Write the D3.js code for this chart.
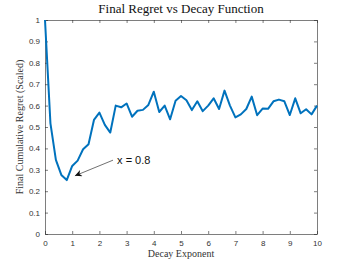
<!DOCTYPE html>
<html>
<head>
<meta charset="utf-8">
<script src="https://cdn.jsdelivr.net/npm/d3@7"></script>
<style>
    body { margin: 0; background: #fff; }
    .tick text { font-family: "Liberation Sans", Arial, sans-serif; font-size: 8px; fill: #333; }
</style>
</head>
<body>
<div class="chart"></div>
<script>
// decay exponent sampled every 0.2 from 0 to 10
var exponents = d3.range(0, 51).map(function (i) { return +(i * 0.2).toFixed(1); });
var regret = [1.0, 0.517, 0.346, 0.276, 0.252, 0.318, 0.343, 0.396, 0.419, 0.533,
    0.567, 0.51, 0.474, 0.6, 0.592, 0.61, 0.548, 0.576, 0.58, 0.603,
    0.665, 0.57, 0.6, 0.536, 0.623, 0.645, 0.625, 0.579, 0.62, 0.574,
    0.60, 0.634, 0.584, 0.67, 0.60, 0.545, 0.559, 0.584, 0.642, 0.555,
    0.586, 0.585, 0.62, 0.628, 0.62, 0.556, 0.634, 0.564, 0.583, 0.559, 0.60];
var xTicks = [0, 1, 2, 3, 4, 5, 6, 7, 8, 9, 10];
var yTicks = [0, 0.1, 0.2, 0.3, 0.4, 0.5, 0.6, 0.7, 0.8, 0.9, 1];
var annotation = { x: 0.8, label: "x = 0.8" };

function plotRegret() {

    var width = 350,
        height = 263,
        left = 45,
        right = 317,
        top = 20,
        bottom = 234;

    var x = d3.scaleLinear().domain([0, 10]).range([left, right]);
    var y = d3.scaleLinear().domain([0, 1]).range([bottom, top]);

    var svg = d3.select('.chart').append('svg')
        .attr('width', width)
        .attr('height', height);

    //axes, ticks pointing inwards like matlab
    var axisColor = '#262626';
    function styleAxis(g) {
        g.select('.domain').attr('stroke', axisColor).attr('stroke-width', 0.6);
        g.selectAll('.tick line').attr('stroke', axisColor).attr('stroke-width', 0.6);
    }
    svg.append('g').attr('transform', 'translate(0,' + bottom + ')')
        .call(d3.axisBottom(x).tickValues(xTicks).tickSizeInner(-3).tickSizeOuter(0).tickPadding(6))
        .call(styleAxis);
    svg.append('g').attr('transform', 'translate(' + left + ',0)')
        .call(d3.axisLeft(y).tickValues(yTicks).tickFormat(d3.format('')).tickSizeInner(-3).tickSizeOuter(0).tickPadding(5))
        .call(styleAxis);
    svg.append('g').attr('transform', 'translate(0,' + top + ')')
        .call(d3.axisTop(x).tickValues(xTicks).tickFormat('').tickSizeInner(-3).tickSizeOuter(0))
        .call(styleAxis);
    svg.append('g').attr('transform', 'translate(' + right + ',0)')
        .call(d3.axisRight(y).tickValues(yTicks).tickFormat('').tickSizeInner(-3).tickSizeOuter(0))
        .call(styleAxis);

    //line
    var line = d3.line()
        .x(function (d, i) { return x(exponents[i]); })
        .y(function (d) { return y(d); });
    svg.append('path')
        .datum(regret)
        .attr('d', line)
        .attr('fill', 'none')
        .attr('stroke', '#0072BD')
        .attr('stroke-width', 2)
        .attr('stroke-linejoin', 'round');

    //arrow annotation
    svg.append('defs').append('marker')
        .attr('id', 'head')
        .attr('viewBox', '0 0 10 10')
        .attr('refX', 10).attr('refY', 5)
        .attr('markerWidth', 10).attr('markerHeight', 7)
        .attr('markerUnits', 'userSpaceOnUse')
        .attr('orient', 'auto')
        .append('path').attr('d', 'M0,0L10,5L0,10L3,5Z').attr('fill', '#111');
    var minVal = regret[exponents.indexOf(annotation.x)];
    svg.append('line')
        .attr('x1', x(2.5)).attr('y1', y(0.345))
        .attr('x2', x(annotation.x + 0.3)).attr('y2', y(minVal + 0.02))
        .attr('stroke', '#333').attr('stroke-width', 0.7)
        .attr('marker-end', 'url(#head)');
    svg.append('text')
        .attr('x', x(2.65)).attr('y', y(0.345) + 4)
        .attr('font-family', '"Liberation Sans", Arial, sans-serif')
        .attr('font-size', '11px')
        .attr('fill', '#111')
        .text(annotation.label);

    //titles
    svg.append('text')
        .attr('x', (left + right) / 2).attr('y', 13)
        .attr('text-anchor', 'middle')
        .attr('font-family', '"Liberation Serif", serif')
        .attr('font-size', '13px')
        .attr('fill', '#111')
        .text('Final Regret vs Decay Function');
    svg.append('text')
        .attr('x', (left + right) / 2).attr('y', 257)
        .attr('text-anchor', 'middle')
        .attr('font-family', '"Liberation Serif", serif')
        .attr('font-size', '10px')
        .attr('fill', '#333')
        .text('Decay Exponent');
    svg.append('text')
        .attr('transform', 'translate(23,' + (top + bottom) / 2 + ') rotate(-90)')
        .attr('text-anchor', 'middle')
        .attr('font-family', '"Liberation Serif", serif')
        .attr('font-size', '10px')
        .attr('fill', '#333')
        .text('Final Cumulative Regret (Scaled)');
}

plotRegret();
</script>
</body>
</html>
